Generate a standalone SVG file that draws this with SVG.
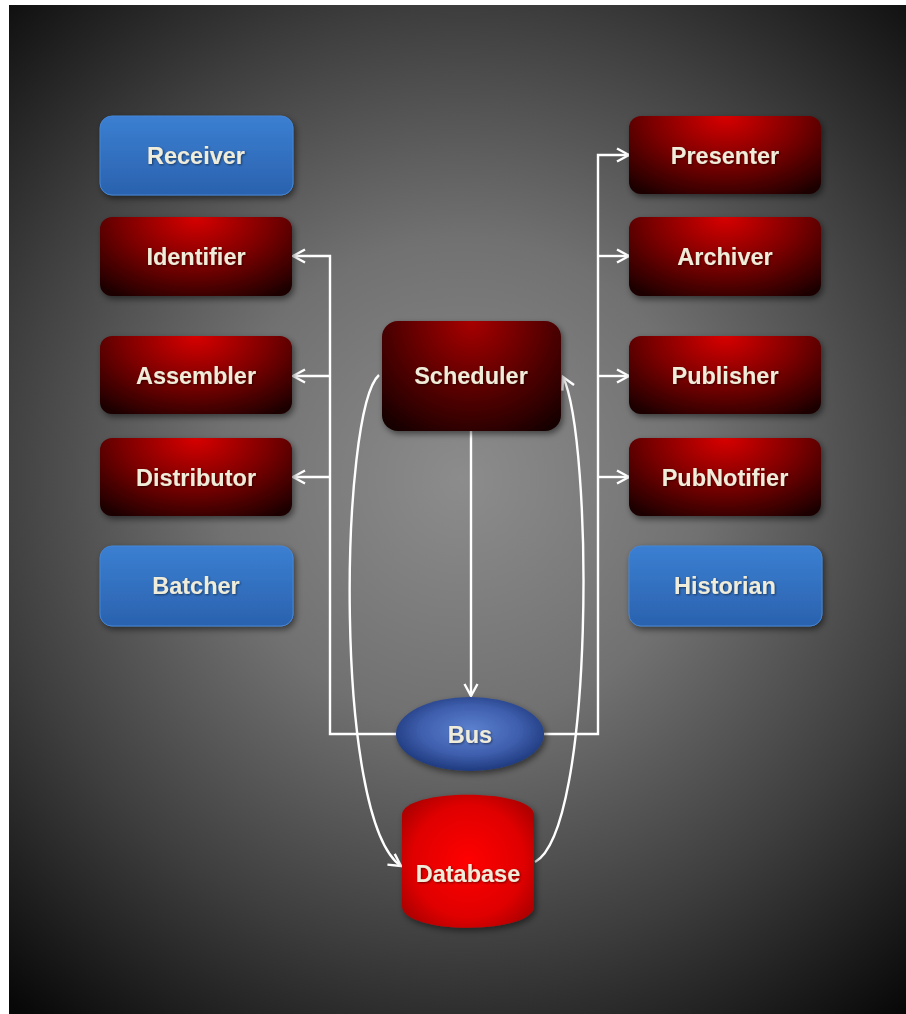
<svg xmlns="http://www.w3.org/2000/svg" width="906" height="1014" viewBox="0 0 906 1014">
<defs>
<radialGradient id="bg" gradientUnits="userSpaceOnUse" cx="462" cy="480" r="690">
<stop offset="0" stop-color="#8c8c8c"/>
<stop offset="0.35" stop-color="#717171"/>
<stop offset="0.68" stop-color="#3e3e3e"/>
<stop offset="1" stop-color="#080808"/>
</radialGradient>
<radialGradient id="red" cx="0.5" cy="0" r="1" fx="0.5" fy="0" gradientTransform="translate(0.5,0) scale(0.75,1.2) translate(-0.5,0)">
<stop offset="0" stop-color="#d80000"/>
<stop offset="0.5" stop-color="#7e0000"/>
<stop offset="1" stop-color="#1a0000"/>
</radialGradient>
<radialGradient id="redS" cx="0.5" cy="0" r="1" fx="0.5" fy="0" gradientTransform="translate(0.5,0) scale(0.75,1.2) translate(-0.5,0)">
<stop offset="0" stop-color="#a80000"/>
<stop offset="0.5" stop-color="#5e0000"/>
<stop offset="1" stop-color="#150000"/>
</radialGradient>
<linearGradient id="blue" x1="0" y1="0" x2="0" y2="1">
<stop offset="0" stop-color="#3b7fd2"/>
<stop offset="1" stop-color="#2a62ae"/>
</linearGradient>
<radialGradient id="bus" cx="0.5" cy="0.45" r="0.55">
<stop offset="0" stop-color="#5d82cf"/>
<stop offset="0.6" stop-color="#3f5fae"/>
<stop offset="1" stop-color="#1f3a7e"/>
</radialGradient>
<radialGradient id="db" cx="0.5" cy="0.5" r="0.6">
<stop offset="0" stop-color="#ff0000"/>
<stop offset="0.7" stop-color="#e00000"/>
<stop offset="1" stop-color="#b00000"/>
</radialGradient>
<filter id="sh" x="-20%" y="-20%" width="140%" height="150%">
<feDropShadow dx="2" dy="3" stdDeviation="3" flood-color="#000" flood-opacity="0.5"/>
</filter>
<filter id="tsh" x="-10%" y="-20%" width="120%" height="150%">
<feDropShadow dx="1" dy="1" stdDeviation="0.8" flood-color="#000" flood-opacity="0.5"/>
</filter>
<marker id="ah" viewBox="0 0 16 16" refX="14" refY="8" markerWidth="16" markerHeight="16" markerUnits="userSpaceOnUse" orient="auto">
<path d="M2,1.5 L14,8 L2,14.5" fill="none" stroke="#ffffff" stroke-width="2.4" stroke-linejoin="miter"/>
</marker>
</defs>
<style>
.lbl{font-family:"Liberation Sans",Arial,sans-serif;font-weight:bold;font-size:23.5px;fill:#f0ecda;text-anchor:middle;dominant-baseline:central}
.rn{fill:url(#red);filter:url(#sh)}
.bn{fill:url(#blue);stroke:#4585d4;stroke-width:1;filter:url(#sh)}
.cn{fill:none;stroke:#ffffff;stroke-width:2.4}
</style>
<rect x="0" y="0" width="906" height="1014" fill="#ffffff"/>
<rect x="9" y="5" width="897" height="1009" fill="url(#bg)"/>

<g id="connectors">
<path class="cn" d="M471,431 V696" marker-end="url(#ah)"/>
<path class="cn" d="M396,734 H330 V256 H293" marker-end="url(#ah)"/>
<path class="cn" d="M330,376 H293" marker-end="url(#ah)"/>
<path class="cn" d="M330,477 H293" marker-end="url(#ah)"/>
<path class="cn" d="M544,734 H598 V155 H629" marker-end="url(#ah)"/>
<path class="cn" d="M598,256 H629" marker-end="url(#ah)"/>
<path class="cn" d="M598,376 H629" marker-end="url(#ah)"/>
<path class="cn" d="M598,477 H629" marker-end="url(#ah)"/>
<path class="cn" d="M379,375 C340,410 333,820 401,866" marker-end="url(#ah)"/>
<path class="cn" d="M535,862 C595,830 593,440 563,377" marker-end="url(#ah)"/>
</g>

<g id="receiver"><rect class="bn" x="100" y="116" width="193" height="79" rx="12"/><text class="lbl" x="196" y="156" filter="url(#tsh)">Receiver</text></g>
<g id="identifier"><rect class="rn" x="100" y="217" width="192" height="79" rx="12"/><text class="lbl" x="196" y="257" filter="url(#tsh)">Identifier</text></g>
<g id="assembler"><rect class="rn" x="100" y="336" width="192" height="78" rx="12"/><text class="lbl" x="196" y="376" filter="url(#tsh)">Assembler</text></g>
<g id="distributor"><rect class="rn" x="100" y="438" width="192" height="78" rx="12"/><text class="lbl" x="196" y="478" filter="url(#tsh)">Distributor</text></g>
<g id="batcher"><rect class="bn" x="100" y="546" width="193" height="80" rx="12"/><text class="lbl" x="196" y="586" filter="url(#tsh)">Batcher</text></g>

<g id="presenter"><rect class="rn" x="629" y="116" width="192" height="78" rx="12"/><text class="lbl" x="725" y="156" filter="url(#tsh)">Presenter</text></g>
<g id="archiver"><rect class="rn" x="629" y="217" width="192" height="79" rx="12"/><text class="lbl" x="725" y="257" filter="url(#tsh)">Archiver</text></g>
<g id="publisher"><rect class="rn" x="629" y="336" width="192" height="78" rx="12"/><text class="lbl" x="725" y="376" filter="url(#tsh)">Publisher</text></g>
<g id="pubnotifier"><rect class="rn" x="629" y="438" width="192" height="78" rx="12"/><text class="lbl" x="725" y="478" filter="url(#tsh)">PubNotifier</text></g>
<g id="historian"><rect class="bn" x="629" y="546" width="193" height="80" rx="12"/><text class="lbl" x="725" y="586" filter="url(#tsh)">Historian</text></g>

<g id="scheduler"><rect x="382" y="321" width="179" height="110" rx="16" fill="url(#redS)" filter="url(#sh)"/><text class="lbl" x="471" y="376" filter="url(#tsh)">Scheduler</text></g>
<g id="bus"><ellipse cx="470" cy="734" rx="74" ry="37" fill="url(#bus)" filter="url(#sh)"/><text class="lbl" x="470" y="735" filter="url(#tsh)">Bus</text></g>
<g id="database"><path d="M402,815 C402,788 534,788 534,815 L534,906 C534,935 402,935 402,906 Z" fill="url(#db)" filter="url(#sh)"/><text class="lbl" x="468" y="874" filter="url(#tsh)">Database</text></g>
</svg>
